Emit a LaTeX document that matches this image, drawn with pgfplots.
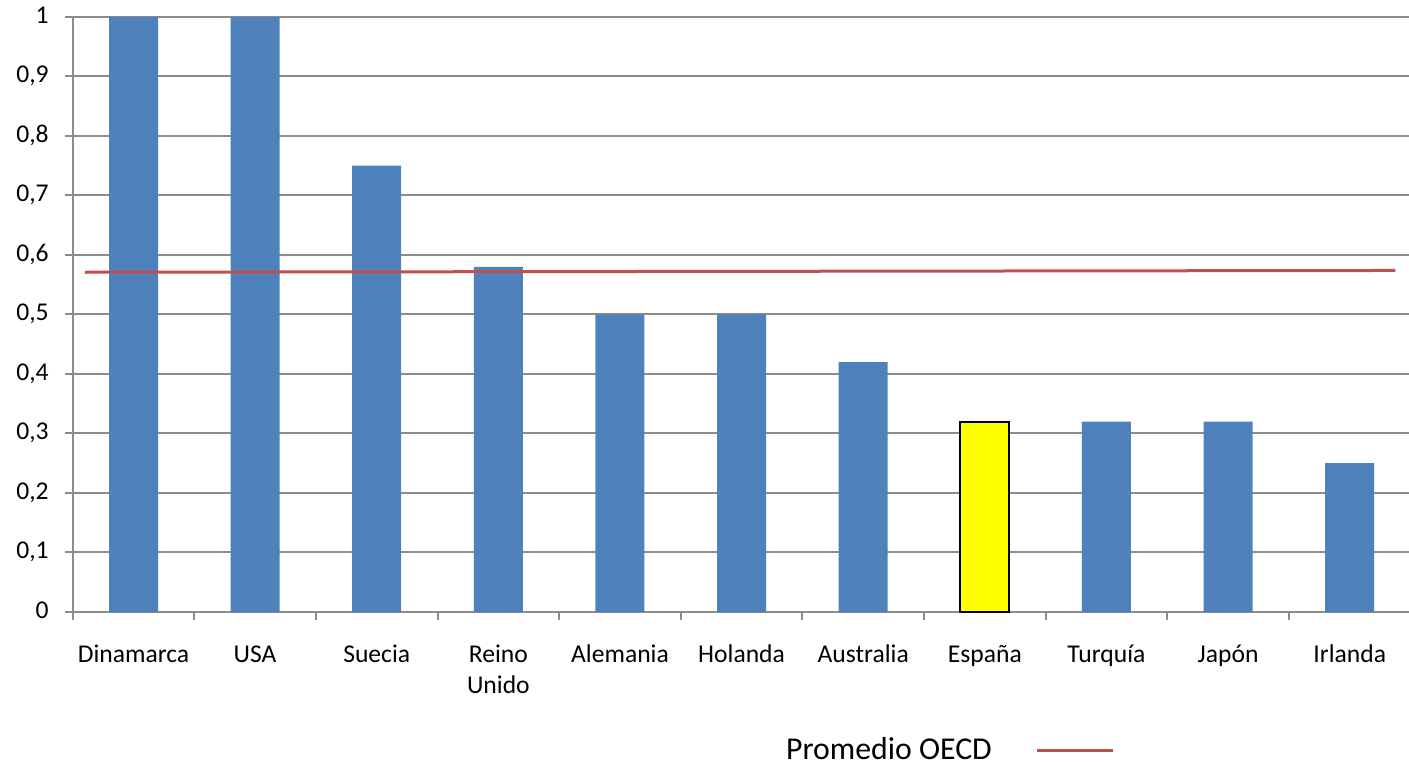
\documentclass[border=0pt]{standalone}
\usepackage{pgfplots}
\pgfplotsset{compat=1.18}
\usepackage{fontspec}
\setmainfont{Carlito}
\definecolor{barblue}{HTML}{4F81BD}
\definecolor{oecdred}{HTML}{C0504D}
\definecolor{gridgray}{HTML}{8C8C8C}
\definecolor{espyellow}{HTML}{FFFF00}

\begin{document}
\begin{tikzpicture}
\useasboundingbox (0,0) rectangle (704.5bp,383bp);
\begin{axis}[
  at={(36.35bp,77bp)}, anchor=south west,
  scale only axis,
  width=668.9bp, height=297.5bp,
  xmin=-0.5, xmax=10.5,
  ymin=0, ymax=1,
  axis x line*=bottom, axis y line*=left,
  axis line style={draw=gridgray, line width=1bp, -},
  ytick={0,0.1,...,1.0},
  ymajorgrids,
  grid style={draw=gridgray, line width=1bp},
  tick align=outside,
  major tick length=4bp,
  tick style={draw=gridgray, line width=1bp},
  xtick={-0.5,0.5,...,9.5},
  xticklabels={},
  extra x ticks={0,1,2,3,4,5,6,7,8,9,10},
  extra x tick labels={Dinamarca,USA,Suecia,Reino\\Unido,Alemania,Holanda,Australia,España,Turquía,Japón,Irlanda},
  extra x tick style={major tick length=0pt, xmajorgrids=false},
  typeset ticklabels with strut,
  x tick label style={font=\fontsize{12.8bp}{15.5bp}\selectfont, align=center, anchor=north, yshift=-11bp},
  y tick label style={font=\fontsize{12.8bp}{15.5bp}\selectfont, xshift=-4.5bp},
  /pgf/number format/use comma,
  /pgf/number format/assume math mode=true,
  legend plot pos=right,
  legend style={at={(0.53,-0.232)}, anchor=west, draw=none, fill=none,
    font=\fontsize{15.9bp}{19bp}\selectfont, inner sep=0pt, column sep=20bp},
  legend image code/.code={\draw[#1] (0bp,0bp) -- (38bp,0bp);},
  clip=false,
]
\addplot[ybar, bar width=24.5bp, bar shift=0pt, fill=barblue, draw=none, forget plot]
  coordinates {(0,1) (1,1) (2,0.75) (3,0.58) (4,0.5) (5,0.5) (6,0.42) (8,0.32) (9,0.32) (10,0.25)};
\addplot[ybar, bar width=24.5bp, bar shift=0pt, fill=espyellow, draw=black, line width=1bp, forget plot]
  coordinates {(7,0.32)};
\addplot[oecdred, line width=1.5bp]
  coordinates {(-0.4,0.571) (10.375,0.574)};
\addlegendentry{Promedio OECD}
\end{axis}
\end{tikzpicture}
\end{document}
